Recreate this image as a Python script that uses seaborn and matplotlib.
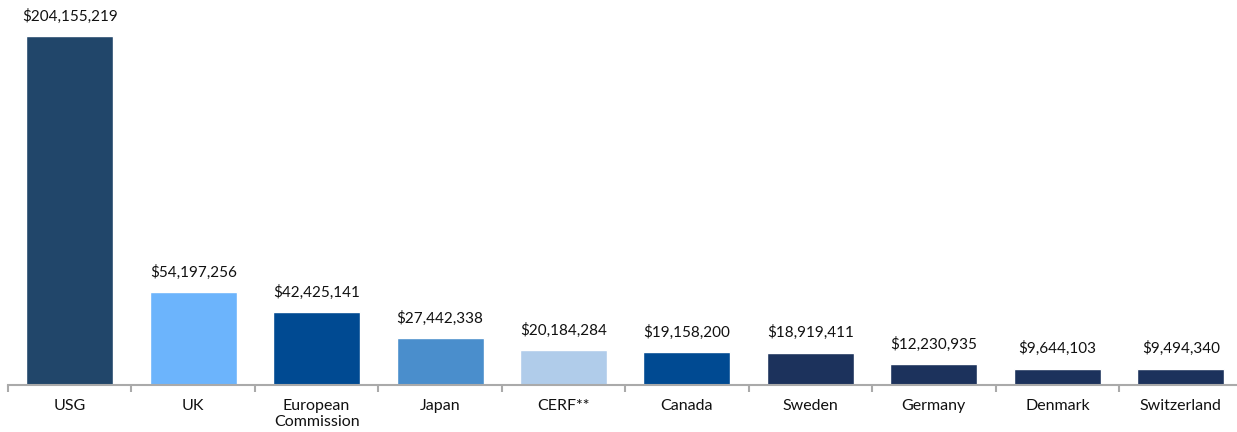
import matplotlib
matplotlib.use("Agg")
import matplotlib.pyplot as plt
import seaborn as sns
import pandas as pd
import numpy as np

categories = ["USG", "UK", "European\nCommission", "Japan", "CERF**", "Canada",
              "Sweden", "Germany", "Denmark", "Switzerland"]
values = [204155219, 54197256, 42425141, 27442338, 20184284, 19158200,
          18919411, 12230935, 9644103, 9494340]
colors = ["#21466A", "#6CB4FC", "#004A92", "#4A8ECC", "#B0CCEA", "#004A92",
          "#1C325C", "#1C325C", "#1C325C", "#1C325C"]

sns.set_theme(style="white")
plt.rcParams["font.family"] = ["Lato", "DejaVu Sans"]

df = pd.DataFrame({"donor": categories, "amount": values})

W, H = 1237, 432
fig = plt.figure(figsize=(W / 100, H / 100), dpi=100)
left = 8 / W
right = 1242.5 / W
bottom = 1 - 385 / H
ax = fig.add_axes([left, bottom, right - left, 1 - bottom])

sns.barplot(data=df, x="donor", y="amount", hue="donor", palette=colors,
            legend=False, width=0.705, saturation=1, ax=ax)

ax.set_xlim(-0.5, len(categories) - 0.5)
ax.set_ylim(0, 385 / 349 * 204155219)

for i, v in enumerate(values):
    ax.annotate(f"${v:,.0f}", (i, v), xytext=(0, 9), textcoords="offset points",
                ha="center", va="bottom", fontsize=11, color="#111111")

for s in ["top", "right", "left"]:
    ax.spines[s].set_visible(False)
ax.spines["bottom"].set_color("#AAAAAA")
ax.spines["bottom"].set_linewidth(1.5)
ax.set_yticks([])
ax.set_xlabel("")
ax.set_ylabel("")
ax.tick_params(axis="x", which="major", length=0, pad=10, labelsize=11.5,
               labelcolor="#111111")
ax.set_xticks(np.arange(-0.5, len(categories)), minor=True)
ax.tick_params(axis="x", which="minor", length=5, width=1.5, color="#AAAAAA",
               direction="out", bottom=True)

fig.savefig("out.png", dpi=100)
